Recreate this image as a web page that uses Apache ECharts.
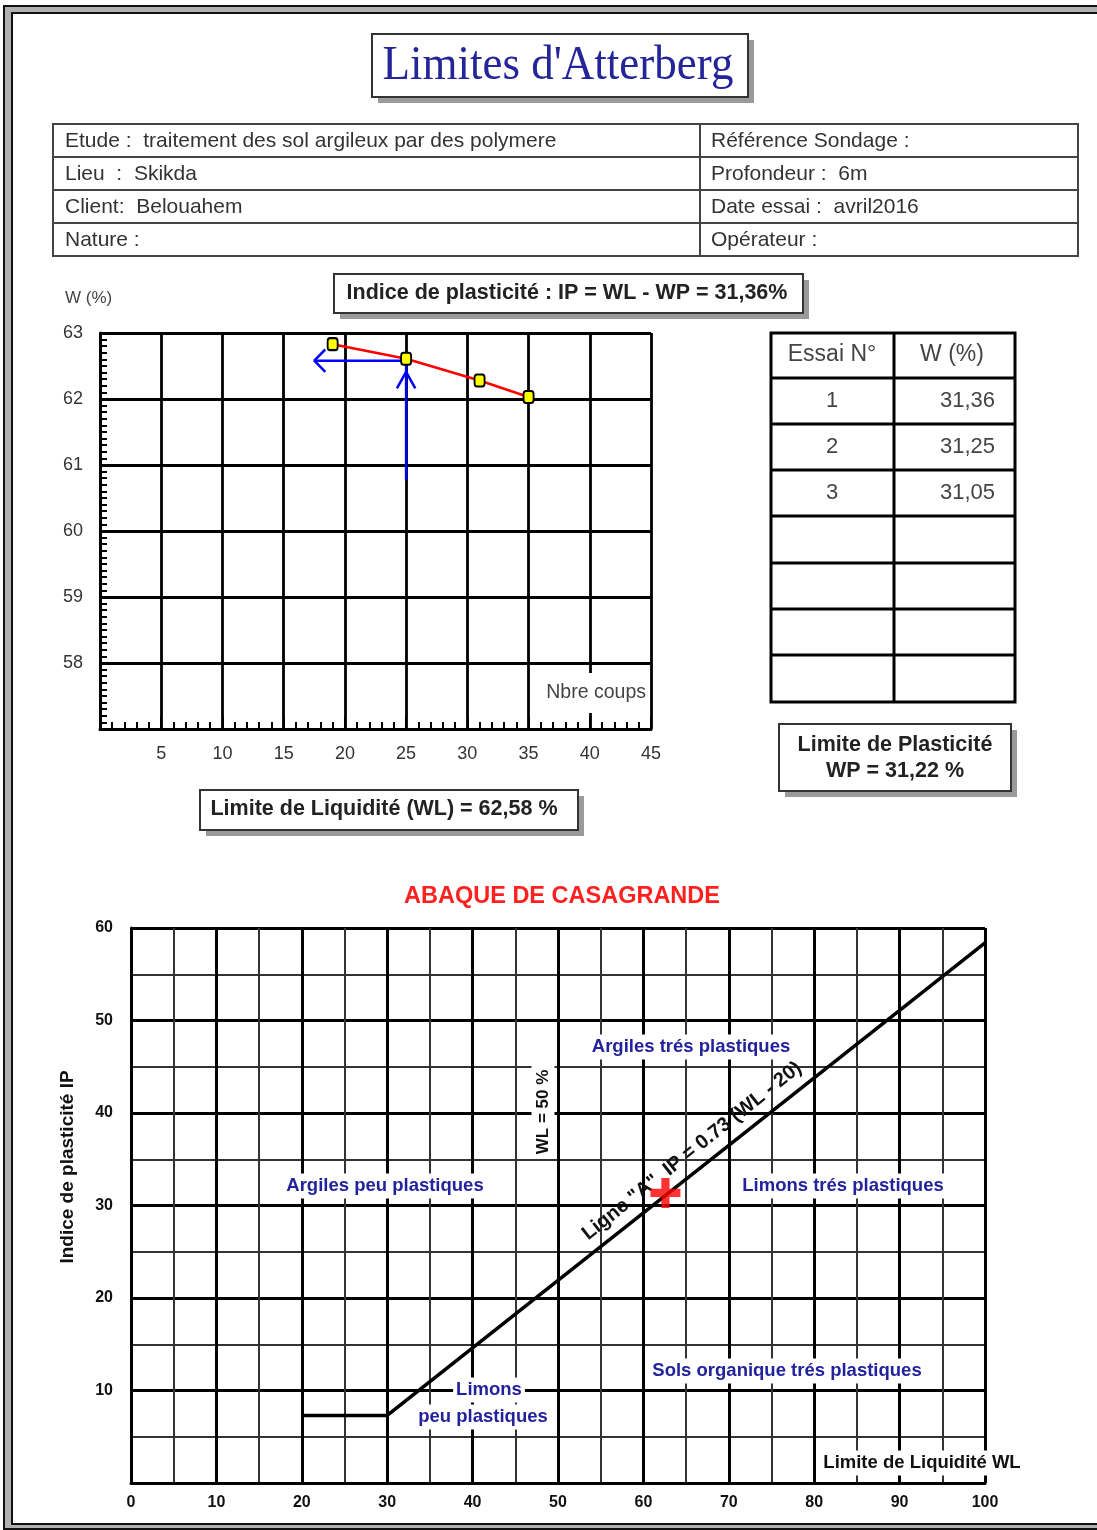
<!DOCTYPE html>
<html><head><meta charset="utf-8">
<script src="https://cdn.jsdelivr.net/npm/echarts@6/dist/echarts.min.js"></script>
<style>html,body{margin:0;padding:0;background:#fff}#c{width:1097px;height:1530px}</style>
</head><body><div id="c"></div>
<script>
// ---------- DATA ----------
const blowCounts = [19, 25, 31, 35];
const waterContents = [62.83, 62.61, 62.28, 62.03];
const liquidLimit = 62.58;
const plasticLimit = 31.22;
const plasticityIndex = 31.36;
const arrowVertical = [[25, 60.77], [25, 62.58]];
const arrowHorizontal = [[25, 62.58], [17.5, 62.58]];
const arrowHeadVertical = [[24.25, 62.16], [25, 62.41], [25.75, 62.16]];
const arrowHeadHorizontal = [[18.4, 62.75], [17.5, 62.58], [18.4, 62.41]];
const aLineWL = [20, 30, 100];
const aLineIP = [7.3, 7.3, 58.4];
const essaiHeader = ['Essai N°', 'W (%)'];
const essaiNumbers = ['1', '2', '3', '', '', '', ''];
const essaiW = ['31,36', '31,25', '31,05', '', '', '', ''];
const infoLeft = ['Etude :  traitement des sol argileux par des polymere', 'Lieu  :  Skikda', 'Client:  Belouahem', 'Nature :'];
const infoRight = ['Référence Sondage :', 'Profondeur :  6m', 'Date essai :  avril2016', 'Opérateur :'];
const pageTitle = "Limites d'Atterberg";
const ipText = 'Indice de plasticité : IP = WL - WP = 31,36%';
const wlText = 'Limite de Liquidité (WL) = 62,58 %';
const wpText = ['Limite de Plasticité', 'WP = 31,22 %'];
const chartTitle = 'ABAQUE DE CASAGRANDE';
const zoneNames = ['Argiles trés plastiques', 'Argiles peu plastiques', 'Limons trés plastiques', 'Sols organique trés plastiques', 'Limons', 'peu plastiques'];
const aLineLabel = 'Ligne "A"  IP = 0.73 (WL - 20)';
const wl50Label = 'WL = 50 %';
const casaXName = 'Limite de Liquidité WL';
const casaYName = 'Indice de plasticité IP';
const upperYName = 'W (%)';
const upperXName = 'Nbre coups';

// ---------- STYLE ----------
const FONT = "'Liberation Sans', Arial, sans-serif";
const SERIF = "'Liberation Serif', 'Times New Roman', serif";
const G = [];
function rect(x, y, w, h, style, z) { G.push({ type: 'rect', z: z || 0, shape: { x, y, width: w, height: h }, style }); }
function line(x1, y1, x2, y2, stroke, lw, z) { G.push({ type: 'line', z: z || 0, shape: { x1, y1, x2, y2 }, style: { stroke, lineWidth: lw } }); }
function text(x, y, t, st, extra) { G.push(Object.assign({ type: 'text', x, y, z: 1, style: Object.assign({ text: t, fontFamily: FONT, align: 'center', verticalAlign: 'middle' }, st) }, extra || {})); }
function shadowBox(x, y, w, h) {
  rect(x + 6, y + 6, w, h, { fill: '#9a9a9a' });
  rect(x, y, w, h, { fill: '#fff', stroke: '#333', lineWidth: 2 });
}

// page frame
rect(8, 9.5, 1200, 1517, { fill: 'none', stroke: '#b0b0b0', lineWidth: 6 });
rect(4, 6, 1200, 1523, { fill: 'none', stroke: '#111', lineWidth: 2 });
rect(12, 13, 1200, 1511, { fill: 'none', stroke: '#111', lineWidth: 2 });

// title box
shadowBox(372, 34, 376, 63);
text(558, 66, pageTitle, { fontFamily: SERIF, fontSize: 45, fill: '#25259a' }, { scaleY: 1.08 });

// info table
rect(53, 124, 1025, 132, { fill: '#fff', stroke: '#444', lineWidth: 2 });
[157, 190, 223].forEach(y => line(53, y, 1078, y, '#444', 2));
line(700, 124, 700, 256, '#444', 2);
infoLeft.forEach((t, i) => text(65, 141 + 33 * i, t, { fontSize: 21, fill: '#333', align: 'left' }));
infoRight.forEach((t, i) => text(711, 141 + 33 * i, t, { fontSize: 21, fill: '#333', align: 'left' }));

// IP box
shadowBox(334, 274, 469, 39);
text(567, 293, ipText, { fontSize: 21.5, fontWeight: 'bold', fill: '#222' });

// W (%) label & Nbre coups
text(65, 298, upperYName, { fontSize: 17, fill: '#444', align: 'left' });
text(648, 693, upperXName, { fontSize: 19.5, fill: '#444', align: 'right', backgroundColor: '#fff', padding: [10, 2, 10, 4] }, { z: 5 });

// right table
rect(771, 333, 244, 369, { fill: '#fff', stroke: '#000', lineWidth: 3 });
line(894, 333, 894, 702, '#000', 3);
[378, 424, 470, 516, 563, 609, 655].forEach(y => line(771, y, 1015, y, '#000', 3));
text(832, 355, essaiHeader[0], { fontSize: 23, fill: '#444' });
text(952, 355, essaiHeader[1], { fontSize: 23, fill: '#444' });
essaiNumbers.forEach((t, i) => { if (t) text(832, 401 + 46 * i, t, { fontSize: 22, fill: '#444' }); });
essaiW.forEach((t, i) => { if (t) text(995, 401 + 46 * i, t, { fontSize: 22, fill: '#444', align: 'right' }); });

// WP box
shadowBox(779, 724, 232, 67);
text(895, 745, wpText[0], { fontSize: 21.5, fontWeight: 'bold', fill: '#222' });
text(895, 771, wpText[1], { fontSize: 21.5, fontWeight: 'bold', fill: '#222' });

// WL box
shadowBox(200, 790, 378, 40);
text(384, 809, wlText, { fontSize: 21.5, fontWeight: 'bold', fill: '#222' });

// Casagrande title
text(562, 897, chartTitle, { fontSize: 23.5, fontWeight: 'bold', fill: '#ff2020' });

// Casagrande labels
const zoneStyle = { fontSize: 18.5, fontWeight: 'bold', fill: '#22229c', backgroundColor: '#fff', padding: [3, 3] };
const zonePos = [[691, 1047], [385, 1186], [843, 1186], [787, 1371], [489, 1390], [483, 1417]];
zoneNames.forEach((t, i) => text(zonePos[i][0], zonePos[i][1], t, zoneStyle));
text(543, 1112, wl50Label, { fontSize: 17, fontWeight: 'bold', fill: '#111', backgroundColor: '#fff', padding: [3, 4] }, { rotation: Math.PI / 2 });
text(922, 1463, casaXName, { fontSize: 18.5, fontWeight: 'bold', fill: '#111', backgroundColor: '#fff', padding: [3, 3] });
text(68, 1167, casaYName, { fontSize: 19, fontWeight: 'bold', fill: '#111' }, { rotation: Math.PI / 2 });
text(692, 1151, aLineLabel, { fontSize: 20, fontWeight: 'bold', fill: '#111' }, { rotation: 0.672, z: 6 });

const upperAxisLabel = { color: '#333', fontSize: 18, fontFamily: FONT };
const lowerAxisLabel = { color: '#111', fontSize: 16, fontWeight: 'bold', fontFamily: FONT };

const option = {
  animation: false,
  backgroundColor: '#fff',
  grid: [
    { left: 100, top: 333, width: 551, height: 396, outerBoundsMode: 'none' },
    { left: 131, top: 928, width: 854, height: 555, outerBoundsMode: 'none' }
  ],
  xAxis: [
    {
      gridIndex: 0, type: 'value', min: 0, max: 45, interval: 5,
      axisLine: { onZero: false, lineStyle: { color: '#000', width: 3 } },
      axisTick: { show: true, inside: true, length: 12, lineStyle: { color: '#000', width: 2 } },
      minorTick: { show: true, splitNumber: 5, length: 7, lineStyle: { color: '#000', width: 2 } },
      splitLine: { show: true, lineStyle: { color: '#000', width: 2.8 } },
      axisLabel: Object.assign({ showMinLabel: false, margin: 16 }, upperAxisLabel)
    },
    {
      gridIndex: 1, type: 'value', min: 0, max: 100, interval: 10,
      axisLine: { onZero: false, lineStyle: { color: '#000', width: 3 } },
      axisTick: { show: false },
      minorTick: { show: false, splitNumber: 2 },
      splitLine: { show: true, lineStyle: { color: '#000', width: 3 } },
      minorSplitLine: { show: true, lineStyle: { color: '#333', width: 2 } },
      axisLabel: Object.assign({ margin: 12 }, lowerAxisLabel)
    }
  ],
  yAxis: [
    {
      gridIndex: 0, type: 'value', min: 57, max: 63, interval: 1,
      axisLine: { show: true, onZero: false, lineStyle: { color: '#000', width: 3 } },
      axisTick: { show: true, inside: true, length: 12, lineStyle: { color: '#000', width: 2 } },
      minorTick: { show: true, splitNumber: 10, length: 7, lineStyle: { color: '#000', width: 2 } },
      splitLine: { show: true, lineStyle: { color: '#000', width: 2.8 } },
      axisLabel: Object.assign({ showMinLabel: false, margin: 17 }, upperAxisLabel)
    },
    {
      gridIndex: 1, type: 'value', min: 0, max: 60, interval: 10,
      axisLine: { show: true, onZero: false, lineStyle: { color: '#000', width: 3 } },
      axisTick: { show: false },
      minorTick: { show: false, splitNumber: 2 },
      splitLine: { show: true, lineStyle: { color: '#000', width: 3 } },
      minorSplitLine: { show: true, lineStyle: { color: '#333', width: 2 } },
      axisLabel: Object.assign({ showMinLabel: false, margin: 18 }, lowerAxisLabel)
    }
  ],
  series: [
    {
      type: 'line', xAxisIndex: 1, yAxisIndex: 1, z: 3,
      data: aLineWL.map((w, i) => [w, aLineIP[i]]),
      symbol: 'none', lineStyle: { color: '#000', width: 3.5 }
    },
    {
      type: 'scatter', xAxisIndex: 1, yAxisIndex: 1, z: 7,
      data: [[liquidLimit, plasticityIndex]],
      symbol: 'path://M4,0H7V4H11V7H7V11H4V7H0V4H4Z', symbolSize: 30,
      itemStyle: { color: '#ff0000' }
    },
    {
      type: 'line', xAxisIndex: 0, yAxisIndex: 0, z: 3,
      data: arrowVertical, symbol: 'none', lineStyle: { color: '#0000ff', width: 2.5 }
    },
    {
      type: 'line', xAxisIndex: 0, yAxisIndex: 0, z: 3,
      data: arrowHorizontal, symbol: 'none', lineStyle: { color: '#0000ff', width: 2.5 }
    },
    {
      type: 'line', xAxisIndex: 0, yAxisIndex: 0, z: 3,
      data: arrowHeadVertical, symbol: 'none', lineStyle: { color: '#0000ff', width: 2.5 }
    },
    {
      type: 'line', xAxisIndex: 0, yAxisIndex: 0, z: 3,
      data: arrowHeadHorizontal, symbol: 'none', lineStyle: { color: '#0000ff', width: 2.5 }
    },
    {
      type: 'line', xAxisIndex: 0, yAxisIndex: 0, z: 4,
      data: blowCounts.map((b, i) => [b, waterContents[i]]),
      lineStyle: { color: '#ff0000', width: 2.5 },
      symbol: 'roundRect', symbolSize: [10, 12], showSymbol: true,
      itemStyle: { color: '#ffff00', borderColor: '#000', borderWidth: 2 }
    }
  ],
  graphic: { elements: G }
};

const chart = echarts.init(document.getElementById('c'), null, { renderer: 'canvas' });
chart.setOption(option);
</script>
</body></html>
